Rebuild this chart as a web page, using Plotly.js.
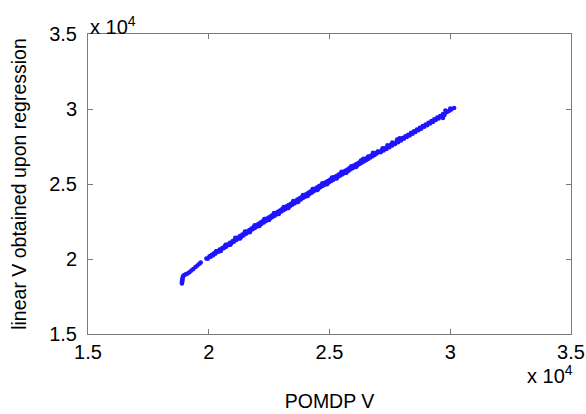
<!DOCTYPE html>
<html>
<head>
<meta charset="utf-8">
<script src="https://cdn.plot.ly/plotly-3.0.1.min.js"></script>
<style>html,body{margin:0;padding:0;background:#fff;}#chart{width:586px;height:414px;}</style>
</head>
<body>
<div id="chart"></div>
<script>
// values in units of 10^4
const xTicks = [1.5, 2, 2.5, 3, 3.5];
const xTickLabels = ["1.5", "2", "2.5", "3", "3.5"];
const yTicks = [1.5, 2, 2.5, 3, 3.5];
const yTickLabels = ["1.5", "2", "2.5", "3", "3.5"];

// POMDP V (x) and linear V from regression (y)
const pomdpV = [
1.889,1.889,1.890,1.890,1.891,1.892,1.893,1.895,1.899,1.905,1.912,1.920,1.928,1.936,1.945,1.953,1.961,1.967,
1.990,1.996,2.003,2.008,2.012,2.018,2.022,2.028,2.034,2.040,2.045,2.050,2.056,2.062,2.066,2.072,2.077,2.083,2.088,2.094,2.099,
2.104,2.109,2.114,2.119,2.124,2.129,2.134,2.139,2.144,2.149,2.154,2.158,2.163,2.168,2.172,2.177,2.182,2.186,2.191,2.196,
2.200,2.205,2.209,2.214,2.218,2.223,2.228,2.232,2.237,2.241,2.246,2.250,2.255,2.259,2.264,2.268,2.273,2.277,2.282,2.286,
2.291,2.295,2.300,2.304,2.309,2.313,2.318,2.322,2.327,2.331,2.336,2.340,2.345,2.349,2.354,2.358,2.363,2.367,2.372,2.376,
2.381,2.385,2.390,2.394,2.399,2.403,2.408,2.412,2.417,2.421,2.426,2.430,2.435,2.439,2.444,2.448,2.453,2.457,2.462,2.466,
2.471,2.475,2.480,2.484,2.489,2.493,2.498,2.502,2.507,2.511,2.516,2.520,2.525,2.529,2.534,2.538,2.543,2.547,2.552,2.556,
2.561,2.565,2.570,2.574,2.579,2.583,2.588,2.592,2.597,2.601,2.606,2.610,2.615,2.619,2.624,2.628,2.633,2.637,2.642,2.646,
2.651,2.655,2.660,2.664,2.669,2.673,2.678,2.682,2.687,2.691,2.696,2.700,
2.706,2.712,2.718,2.724,2.730,2.736,2.742,2.748,2.754,2.760,2.766,2.772,2.778,2.784,2.790,2.796,2.802,2.808,2.814,2.820,
2.826,2.832,2.838,2.844,2.850,2.856,2.862,2.868,2.874,2.880,2.886,2.892,2.898,2.904,2.910,2.916,2.922,2.928,2.934,2.940,
2.946,2.952,2.958,2.964,2.970,2.976,2.982,2.988,2.996,3.004,3.016,
2.970,2.640,2.660,2.680,2.720,2.740,2.760,2.780,2.790,2.980,3.000,
2.030,2.050,2.070,2.090,2.110,2.130,2.150,2.170,2.190,2.210,2.230,2.250,2.270,2.290,2.310,2.330,2.350,2.370,2.390,2.410,
2.430,2.450,2.470,2.490,2.510,2.530,2.550,2.570,2.590,2.610,2.630
];
const linearV = [
1.836,1.843,1.851,1.858,1.866,1.874,1.882,1.889,1.893,1.898,1.904,1.912,1.923,1.934,1.947,1.957,1.968,1.976,
2.004,2.002,2.018,2.015,2.028,2.025,2.038,2.036,2.051,2.048,2.063,2.059,2.074,2.072,2.085,2.082,2.097,2.094,2.108,2.106,2.120,
2.115,2.132,2.126,2.142,2.136,2.153,2.147,2.163,2.157,2.174,2.168,2.184,2.178,2.194,2.187,2.204,2.198,2.213,2.207,2.224,
2.216,2.234,2.225,2.243,2.234,2.252,2.244,2.261,2.253,2.270,2.262,2.279,2.271,2.288,2.280,2.297,2.289,2.306,2.298,2.315,
2.307,2.324,2.316,2.333,2.325,2.342,2.334,2.351,2.343,2.360,2.352,2.369,2.361,2.378,2.370,2.387,2.379,2.396,2.388,2.405,
2.397,2.414,2.406,2.423,2.415,2.432,2.424,2.441,2.433,2.450,2.442,2.459,2.451,2.468,2.460,2.477,2.469,2.486,2.478,2.494,
2.486,2.503,2.495,2.512,2.503,2.520,2.512,2.529,2.520,2.537,2.529,2.546,2.538,2.554,2.546,2.563,2.555,2.572,2.564,2.580,
2.572,2.589,2.581,2.597,2.589,2.606,2.598,2.614,2.607,2.623,2.615,2.631,2.624,2.640,2.633,2.648,2.641,2.657,2.650,2.665,
2.659,2.674,2.667,2.682,2.676,2.690,2.685,2.699,2.694,2.707,2.703,2.716,
2.716,2.712,2.727,2.723,2.738,2.734,2.750,2.745,2.761,2.756,2.772,2.767,2.784,2.779,2.795,2.790,2.806,2.801,2.818,2.813,
2.829,2.824,2.841,2.835,2.852,2.847,2.863,2.858,2.875,2.869,2.886,2.881,2.897,2.892,2.909,2.903,2.920,2.914,2.931,2.926,
2.943,2.937,2.954,2.948,2.966,2.960,2.976,2.982,2.988,2.996,3.007,
2.940,2.668,2.684,2.708,2.738,2.758,2.776,2.797,2.805,2.990,3.003,
2.052,2.054,2.095,2.095,2.141,2.136,2.183,2.178,2.225,2.220,2.266,2.260,2.306,2.300,2.346,2.340,2.386,2.380,2.426,2.420,
2.466,2.460,2.505,2.498,2.543,2.537,2.581,2.575,2.619,2.613,2.657
];

const trace = {
  type: 'scatter', mode: 'markers',
  x: pomdpV, y: linearV,
  marker: {color: 'rgb(30,20,255)', size: 4.5, line: {width: 0}},
  hoverinfo: 'x+y'
};

const FONT = 'Liberation Sans, Arial, sans-serif';
const axisFont = {family: FONT, size: 20, color: '#000'};
const layout = {
  width: 586, height: 414,
  margin: {l: 88, r: 15, t: 34, b: 80},
  paper_bgcolor: '#fff', plot_bgcolor: '#fff',
  showlegend: false,
  xaxis: {
    range: [1.5, 3.5], tickvals: xTicks, ticktext: xTickLabels,
    ticks: 'inside', ticklen: 5, tickcolor: '#7a7a7a', tickwidth: 1,
    showline: true, linecolor: '#7a7a7a', linewidth: 1, mirror: 'ticks',
    showgrid: false, zeroline: false, tickfont: axisFont,
    title: {text: 'POMDP V', font: {family: FONT, size: 19.5, color: '#000'}, standoff: 32}
  },
  yaxis: {
    range: [1.5, 3.5], tickvals: yTicks, ticktext: yTickLabels,
    ticks: 'inside', ticklen: 5, tickcolor: '#7a7a7a', tickwidth: 1,
    showline: true, linecolor: '#7a7a7a', linewidth: 1, mirror: 'ticks',
    showgrid: false, zeroline: false, tickfont: axisFont, ticklabelstandoff: 6,
    title: {text: 'linear V obtained upon regression', font: {family: FONT, size: 19.5, color: '#000'}, standoff: 17}
  },
  annotations: [
    {xref: 'paper', yref: 'paper', x: 0, y: 1, xanchor: 'left', yanchor: 'bottom', yshift: -6,
     text: 'x 10<sup>4</sup>', showarrow: false, font: {family: FONT, size: 20, color: '#000'}},
    {xref: 'paper', yref: 'paper', x: 1, y: 0, xanchor: 'right', yanchor: 'top', xshift: 4, yshift: -26,
     text: 'x 10<sup>4</sup>', showarrow: false, font: {family: FONT, size: 20, color: '#000'}}
  ]
};

Plotly.newPlot('chart', [trace], layout, {staticPlot: true, displayModeBar: false});
</script>
</body>
</html>
